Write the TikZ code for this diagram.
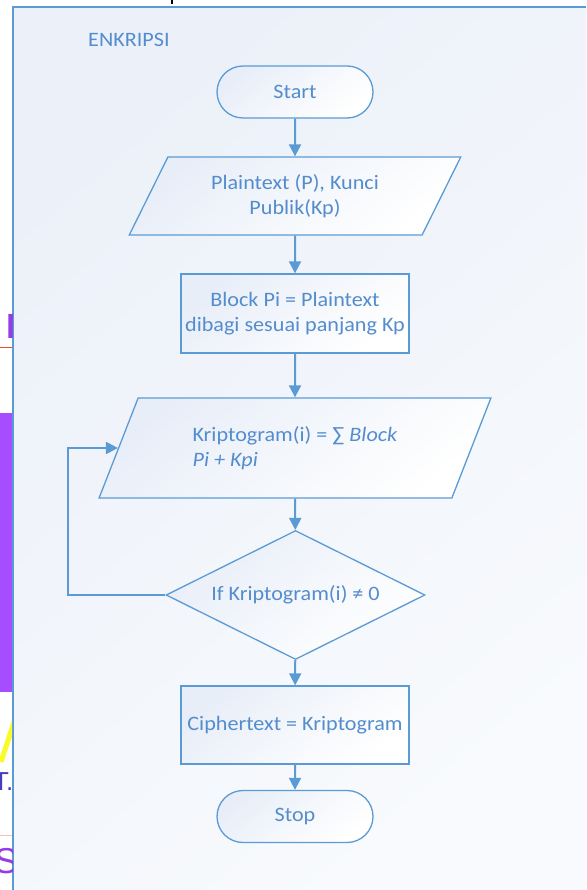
\documentclass[tikz,border=0pt]{standalone}
\usepackage{fontspec}
\setmainfont{Carlito}[FakeStretch=1.08]
\newfontfamily\artfont{Liberation Sans}
\usetikzlibrary{shapes.geometric,shapes.misc,arrows.meta}
\definecolor{ln}{RGB}{91,155,213}
\definecolor{tx}{RGB}{84,141,205}
\definecolor{shA}{RGB}{232,238,248}
\definecolor{panelA}{RGB}{236,241,249}
\definecolor{panelB}{RGB}{248,250,253}
\definecolor{purp}{RGB}{166,77,255}
\definecolor{purpT}{RGB}{150,60,230}
\definecolor{darkT}{RGB}{70,60,190}
\definecolor{orl}{RGB}{230,80,40}
\definecolor{pale}{RGB}{245,195,175}
\definecolor{yel}{RGB}{250,250,40}
\tikzset{
 base/.style={draw=ln, line width=1.3pt, text=tx, font=\fontsize{20.5}{25}\selectfont,
   top color=shA, bottom color=white, shading angle=40, inner sep=0pt},
 term/.style={base, rounded rectangle, minimum width=156pt, minimum height=52pt},
 proc/.style={base, rectangle, minimum width=228pt, minimum height=79pt, align=center},
 io/.style={base, trapezium, trapezium left angle=59.5, trapezium right angle=120.5,
   trapezium stretches=true},
 dec/.style={base, diamond, minimum width=259pt, minimum height=129pt, aspect=2},
 arr/.style={draw=ln, line width=2pt, -{Triangle[length=12pt,width=12pt]}},
 title/.style={text=tx, font=\fontsize{20.5}{23}\selectfont, inner sep=0pt},
}
\begin{document}
\begin{tikzpicture}[x=1pt,y=-1pt]
\useasboundingbox (0,0) rectangle (586,890);
% background panel
\shade[top color=panelA, bottom color=panelB, shading angle=40] (13,7) rectangle (586,890);
\draw[ln, line width=1.6pt] (13,890) -- (13,7) -- (586,7);
% fragments of the page behind
\begin{scope}
\clip (0,0) rectangle (12.2,890);
\fill[purp] (0,413) rectangle (12.2,692);
\draw[orl, line width=1pt] (0,347) -- (12.2,347);
\draw[pale, line width=0.8pt] (0,835) -- (12.2,835);
\node[anchor=base west, inner sep=0pt, text=purpT, font=\artfont\bfseries\fontsize{35}{35}\selectfont] (fragN) at (6,338) {N};
\draw[yel, line width=5pt] (1,762) -- (14,722);
\node[anchor=base east, inner sep=0pt, text=darkT, font=\artfont\fontsize{26}{26}\selectfont] (fragT) at (13.5,790) {T.};
\node[anchor=base west, inner sep=0pt, text=purpT, font=\artfont\fontsize{36}{36}\selectfont] (fragS) at (-6,873) {S};
\end{scope}
\draw[black, line width=1.5pt] (172,0) -- (172,4.5);
% title
\node[title, anchor=west] (ttl) at (88,40) {ENKRIPSI};
% flowchart
\node[term] (start) at (295,92) {Start};
\node[io, minimum width=332pt, minimum height=78pt, align=center] (plain) at (295,196)
  {Plaintext (P), Kunci\\Publik(Kp)};
\node[proc] (block) at (295,313.5) {Block Pi = Plaintext\\dibagi sesuai panjang Kp};
\node[io, minimum width=392pt, minimum height=100pt, align=left] (kr) at (295,448)
  {Kriptogram(i) = ∑ \textit{Block}\\\textit{Pi + Kpi}};
\node[dec] (dec) at (295.5,595) {If Kriptogram(i) ≠ 0};
\node[proc, minimum height=78pt] (ciph) at (295,725) {Ciphertext = Kriptogram};
\node[term] (stop) at (295,816.5) {Stop};
\coordinate (lp) at (68,595);
% connectors
\draw[arr] (start) -- (plain);
\draw[arr] (plain) -- (block);
\draw[arr] (block) -- (kr);
\draw[arr] (kr) -- (dec);
\draw[arr] (dec) -- (ciph);
\draw[arr] (ciph) -- (stop);
\draw[arr] (dec.west) -- (lp) |- (kr.west);
\end{tikzpicture}
\end{document}
